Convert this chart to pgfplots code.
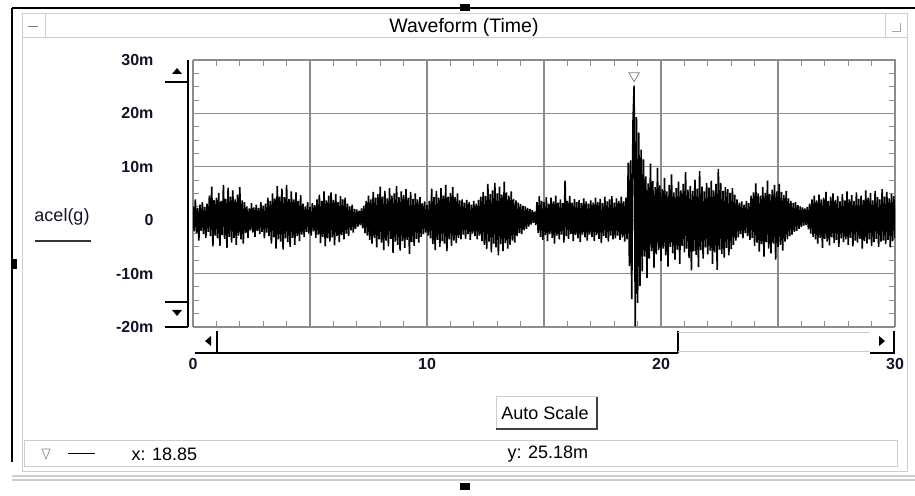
\documentclass[border=0pt]{standalone}
\usepackage{pgfplots}
\pgfplotsset{compat=1.18}
\usepackage{fontspec}
\setmainfont{Liberation Sans}
\definecolor{gridgray}{RGB}{140,140,140}
\definecolor{panelgray}{RGB}{205,205,205}
\definecolor{textblue}{RGB}{20,20,40}
\begin{document}
\begin{tikzpicture}[x=1pt,y=1pt]
\path[use as bounding box] (0,0) rectangle (915,495);
% ---------- window frame ----------
\draw[black, line width=1.6pt] (12,487) -- (915,487);
\draw[black, line width=1.6pt] (12,487) -- (12,33);
\draw[panelgray, line width=1.5pt] (12,19) -- (915,19);
\draw[panelgray, line width=1.5pt] (12,15) -- (915,15);
\draw[panelgray, line width=1pt] (22,481) rectangle (907,23);
\draw[panelgray, line width=1pt] (22,457) -- (907,457);
\draw[panelgray, line width=1pt] (45,481) -- (45,457);
\draw[panelgray, line width=1pt] (885,481) -- (885,457);
\draw[gray, line width=1pt] (28,468) -- (38,468);
\draw[gray!70, line width=0.8pt] (892,464) -- (900,464) -- (900,472);
\fill[black] (460,484) rectangle (470,491);
\fill[black] (11,226) rectangle (17,236);
\fill[black] (460,5) rectangle (470,12);
\node[font=\fontsize{19.5}{22}\selectfont] at (464,468) {Waveform (Time)};
% ---------- y label ----------
\node[font=\fontsize{18}{20}\selectfont, text=textblue] at (62,278) {acel(g)};
\draw[black!80, line width=1.2pt] (35,254) -- (91,254);
% ---------- y scrollbar ----------
\draw[black, line width=1.5pt] (188,435) -- (188,168);
\draw[black, line width=1.5pt] (165,413) -- (188,413);
\draw[black, line width=1.5pt] (165,193) -- (188,193);
\draw[black, line width=1.5pt] (165,168) -- (188,168);
\fill[black] (172,421) -- (182,421) -- (177,427) -- cycle;
\fill[black] (172,185) -- (182,185) -- (177,179) -- cycle;
% ---------- x scrollbar ----------
\draw[black, line width=1.5pt] (195,142) -- (678,142);
\draw[black, line width=1.5pt] (217,164) -- (217,142);
\draw[black, line width=1.5pt] (678,164) -- (678,142);
\draw[panelgray, line width=1pt] (678,162) -- (870,162);
\draw[panelgray, line width=1pt] (678,143) -- (870,143);
\draw[black, line width=1.5pt] (870,142) -- (894,142) -- (894,164);
\fill[black] (211,149) -- (211,159) -- (205,154) -- cycle;
\fill[black] (879,149) -- (879,159) -- (885,154) -- cycle;
% ---------- Auto Scale button ----------
\draw[panelgray, line width=1pt] (496,98) -- (496,66) ;
\draw[panelgray, line width=1pt] (496,98) -- (597,98);
\draw[black!75, line width=1.5pt] (496,66) -- (597,66) -- (597,98);
\node[font=\fontsize{18}{20}\selectfont] at (545,82) {Auto Scale};
% ---------- status bar ----------
\draw[panelgray, line width=1pt] (24,54) rectangle (897,28);
\draw[gray, line width=0.6pt] (42,46) -- (50,46) -- (46,36) -- cycle;
\draw[black, line width=1pt] (68,41) -- (95,41);
\node[font=\fontsize{18}{20}\selectfont, anchor=west] at (128,41) {x: 18.85};
\node[font=\fontsize{18}{20}\selectfont, anchor=west] at (504,41) {y: 25.18m};
% ---------- the axis ----------
\begin{axis}[
  at={(193pt,168pt)}, anchor=south west,
  scale only axis, width=702pt, height=267pt,
  xmin=0, xmax=30, ymin=-20, ymax=30,
  axis line style={gridgray, line width=1pt},
  xtick={0,5,...,30}, xticklabels={0,,10,,20,,30},
  ytick={-20,-10,0,10,20,30}, yticklabels={-20m,-10m,0,10m,20m,30m},
  minor x tick num=4, minor y tick num=3,
  tick align=inside,
  major tick length=0pt, minor tick length=6pt,
  tick style={gridgray, line width=1pt},
  xmajorgrids, ymajorgrids,
  major grid style={gridgray, line width=1.1pt},
  /pgf/number format/assume math mode=true,
  ticklabel style={font=\fontsize{16}{18}\selectfont\bfseries, text=textblue},
  xticklabel style={yshift=-28pt},
  yticklabel style={xshift=-36pt},
  clip=true,
]
\addplot[black, line width=1.6pt, line join=bevel, mark=none] coordinates {
(0,2.6)(0.05,-2.1)(0.1,3.9)(0.15,-2.4)(0.2,2.3)(0.25,-3.8)(0.3,2.9)(0.35,-2.0)(0.4,3.4)(0.45,-2.6)(0.5,2.5)(0.55,-3.3)(0.6,3.1)(0.65,-2.2)(0.7,4.6)(0.75,-3.0)(0.8,6.3)(0.85,-4.9)(0.9,3.8)(0.95,-2.9)
(1,4.2)(1.05,-3.4)(1.1,5.1)(1.15,-4.8)(1.2,3.6)(1.25,-2.8)(1.3,6.6)(1.35,-3.5)(1.4,4.0)(1.45,-5.2)(1.5,6.1)(1.55,-3.1)(1.6,4.4)(1.65,-4.2)(1.7,5.6)(1.75,-3.3)(1.8,3.9)(1.85,-4.6)(1.9,4.8)(1.95,-2.9)
(2,6.2)(2.05,-3.6)(2.1,3.7)(2.15,-4.4)(2.2,3.4)(2.25,-2.4)(2.3,2.6)(2.35,-3.3)(2.4,2.2)(2.45,-1.9)(2.5,3.2)(2.55,-2.3)(2.6,2.4)(2.65,-3.1)(2.7,2.9)(2.75,-2.0)(2.8,2.3)(2.85,-2.6)(2.9,3.4)(2.95,-2.2)
(3,2.7)(3.05,-3.4)(3.1,3.1)(3.15,-2.3)(3.2,4.2)(3.25,-3.0)(3.3,3.6)(3.35,-4.4)(3.4,5.0)(3.45,-3.2)(3.5,4.1)(3.55,-5.3)(3.6,6.4)(3.65,-3.6)(3.7,4.4)(3.75,-4.0)(3.8,5.9)(3.85,-5.5)(3.9,4.3)(3.95,-3.4)
(4,6.6)(4.05,-4.1)(4.1,4.0)(4.15,-5.0)(4.2,5.4)(4.25,-3.3)(4.3,3.9)(4.35,-4.6)(4.4,5.2)(4.45,-3.0)(4.5,3.6)(4.55,-3.9)(4.6,4.7)(4.65,-2.7)(4.7,3.1)(4.75,-3.1)(4.8,2.6)(4.85,-2.2)(4.9,3.4)(4.95,-2.5)
(5,2.5)(5.05,-2.9)(5.1,3.2)(5.15,-2.1)(5.2,2.8)(5.25,-3.3)(5.3,3.9)(5.35,-2.7)(5.4,4.8)(5.45,-4.3)(5.5,3.6)(5.55,-3.1)(5.6,5.4)(5.65,-4.9)(5.7,3.7)(5.75,-3.4)(5.8,4.6)(5.85,-4.0)(5.9,5.2)(5.95,-3.2)
(6,3.8)(6.05,-4.7)(6.1,4.9)(6.15,-3.0)(6.2,3.4)(6.25,-4.1)(6.3,4.5)(6.35,-2.8)(6.4,3.9)(6.45,-3.6)(6.5,4.2)(6.55,-2.5)(6.6,3.1)(6.65,-3.0)(6.7,2.6)(6.75,-1.9)(6.8,2.9)(6.85,-2.3)(6.9,2.1)(6.95,-1.6)
(7,2.0)(7.05,-1.2)(7.1,1.8)(7.15,-0.9)(7.2,2.2)(7.25,-1.5)(7.3,2.7)(7.35,-2.4)(7.4,3.6)(7.45,-2.9)(7.5,4.6)(7.55,-3.7)(7.6,3.9)(7.65,-4.4)(7.7,5.3)(7.75,-3.3)(7.8,4.2)(7.85,-5.1)(7.9,4.9)(7.95,-3.6)
(8,6.3)(8.05,-4.2)(8.1,4.4)(8.15,-5.6)(8.2,5.5)(8.25,-3.8)(8.3,4.1)(8.35,-4.9)(8.4,6.0)(8.45,-3.5)(8.5,4.6)(8.55,-6.1)(8.6,5.0)(8.65,-4.0)(8.7,6.4)(8.75,-4.6)(8.8,4.3)(8.85,-5.7)(8.9,5.4)(8.95,-3.9)
(9,4.7)(9.05,-5.2)(9.1,5.8)(9.15,-3.7)(9.2,4.2)(9.25,-6.3)(9.3,5.3)(9.35,-4.1)(9.4,4.0)(9.45,-4.8)(9.5,5.0)(9.55,-3.5)(9.6,3.9)(9.65,-4.2)(9.7,4.3)(9.75,-3.1)(9.8,3.2)(9.85,-2.6)(9.9,3.5)(9.95,-2.3)
(10,2.8)(10.05,-2.9)(10.1,3.6)(10.15,-3.4)(10.2,5.9)(10.25,-4.5)(10.3,4.3)(10.35,-5.6)(10.4,5.5)(10.45,-3.7)(10.5,4.2)(10.55,-5.0)(10.6,6.0)(10.65,-3.9)(10.7,4.6)(10.75,-4.4)(10.8,6.6)(10.85,-5.8)(10.9,4.4)(10.95,-3.6)
(11,5.1)(11.05,-4.8)(11.1,6.2)(11.15,-3.8)(11.2,4.3)(11.25,-4.3)(11.3,5.0)(11.35,-3.3)(11.4,3.7)(11.45,-3.6)(11.5,3.9)(11.55,-2.7)(11.6,3.3)(11.65,-3.5)(11.7,3.8)(11.75,-2.6)(11.8,3.4)(11.85,-3.7)(11.9,2.9)(11.95,-2.5)
(12,3.6)(12.05,-3.0)(12.1,3.1)(12.15,-3.6)(12.2,3.8)(12.25,-2.9)(12.3,4.4)(12.35,-3.9)(12.4,5.3)(12.45,-4.6)(12.5,4.5)(12.55,-5.4)(12.6,6.8)(12.65,-4.0)(12.7,4.9)(12.75,-6.0)(12.8,5.6)(12.85,-4.4)(12.9,7.0)(12.95,-5.1)
(13,5.0)(13.05,-6.6)(13.1,6.3)(13.15,-4.5)(13.2,4.8)(13.25,-5.8)(13.3,7.2)(13.35,-4.3)(13.4,5.2)(13.45,-5.3)(13.5,4.6)(13.55,-4.6)(13.6,5.4)(13.65,-3.8)(13.7,4.0)(13.75,-4.2)(13.8,3.7)(13.85,-3.0)(13.9,3.3)(13.95,-2.4)
(14,3.0)(14.05,-2.6)(14.1,2.7)(14.15,-1.9)(14.2,2.6)(14.25,-1.6)(14.3,2.3)(14.35,-1.2)(14.4,2.1)(14.45,-0.8)(14.5,1.9)(14.55,-0.5)(14.6,1.6)(14.65,-0.9)(14.7,3.4)(14.75,-2.4)(14.8,4.5)(14.85,-3.1)(14.9,3.6)(14.95,-3.7)
(15,3.4)(15.05,-2.8)(15.1,4.3)(15.15,-3.9)(15.2,3.1)(15.25,-2.6)(15.3,4.2)(15.35,-3.3)(15.4,3.5)(15.45,-4.4)(15.5,4.6)(15.55,-2.9)(15.6,3.3)(15.65,-3.6)(15.7,3.9)(15.75,-2.7)(15.8,3.2)(15.85,-4.2)(15.9,7.4)(15.95,-3.0)
(16,3.6)(16.05,-3.5)(16.1,4.5)(16.15,-2.6)(16.2,3.3)(16.25,-3.9)(16.3,4.0)(16.35,-2.8)(16.4,3.4)(16.45,-3.4)(16.5,3.8)(16.55,-4.1)(16.6,3.2)(16.65,-2.7)(16.7,4.1)(16.75,-3.2)(16.8,3.5)(16.85,-3.8)(16.9,3.1)(16.95,-2.7)
(17,3.7)(17.05,-3.1)(17.1,3.3)(17.15,-3.9)(17.2,4.2)(17.25,-2.8)(17.3,3.4)(17.35,-3.5)(17.4,4.0)(17.45,-4.3)(17.5,3.2)(17.55,-3.0)(17.6,4.4)(17.65,-3.3)(17.7,3.5)(17.75,-4.0)(17.8,3.9)(17.85,-2.9)(17.9,4.5)(17.95,-3.6)
(18,3.3)(18.05,-3.4)(18.1,4.1)(18.15,-2.9)(18.2,3.6)(18.25,-3.7)(18.3,4.4)(18.35,-3.2)(18.4,3.5)(18.45,-4.0)(18.5,4.2)(18.55,-3.6)(18.6,10.8)(18.65,-8.6)(18.7,11.2)(18.75,-14.8)(18.8,18.0)(18.85,25.18)(18.9,-19.9)(18.95,19.3)
(19,-15.5)(19.05,16.4)(19.1,-12.3)(19.15,13.2)(19.2,-9.6)(19.25,11.4)(19.3,-6.8)(19.35,8.2)(19.4,-10.8)(19.45,6.9)(19.5,-7.2)(19.55,10.6)(19.6,-5.8)(19.65,7.3)(19.7,-8.9)(19.75,6.2)(19.8,-6.4)(19.85,9.8)(19.9,-5.6)(19.95,6.5)
(20,-7.6)(20.05,5.8)(20.1,-5.3)(20.15,7.9)(20.2,-6.6)(20.25,5.4)(20.3,-8.7)(20.35,6.6)(20.4,-5.0)(20.45,8.6)(20.5,-6.2)(20.55,5.2)(20.6,-7.4)(20.65,6.0)(20.7,-5.5)(20.75,7.2)(20.8,-8.2)(20.85,5.6)(20.9,-4.8)(20.95,6.8)
(21,-6.0)(21.05,9.0)(21.1,-5.3)(21.15,5.7)(21.2,-7.1)(21.25,6.4)(21.3,-9.4)(21.35,5.5)(21.4,-5.8)(21.45,7.6)(21.5,-6.5)(21.55,5.9)(21.6,-8.8)(21.65,9.2)(21.7,-5.6)(21.75,6.3)(21.8,-7.2)(21.85,5.4)(21.9,-5.1)(21.95,7.0)
(22,-6.4)(22.05,6.1)(22.1,-5.7)(22.15,7.4)(22.2,-8.2)(22.25,5.6)(22.3,-6.0)(22.35,6.8)(22.4,-9.3)(22.45,9.6)(22.5,-5.5)(22.55,7.0)(22.6,-6.3)(22.65,5.5)(22.7,-7.0)(22.75,6.2)(22.8,-5.2)(22.85,5.8)(22.9,-6.6)(22.95,5.1)
(23,-5.4)(23.05,6.0)(23.1,-4.6)(23.15,4.8)(23.2,-3.8)(23.25,3.9)(23.3,-3.2)(23.35,3.3)(23.4,-2.6)(23.45,3.5)(23.5,-3.4)(23.55,2.9)(23.6,-2.4)(23.65,3.6)(23.7,-3.0)(23.75,3.2)(23.8,-3.7)(23.85,4.6)(23.9,-3.3)(23.95,5.2)
(24,-4.8)(24.05,6.9)(24.1,-4.2)(24.15,5.0)(24.2,-5.9)(24.25,4.6)(24.3,-4.5)(24.35,6.2)(24.4,-6.8)(24.45,5.1)(24.5,-4.1)(24.55,7.4)(24.6,-5.3)(24.65,4.9)(24.7,-6.2)(24.75,5.7)(24.8,-4.4)(24.85,6.6)(24.9,-7.4)(24.95,5.4)
(25,-5.0)(25.05,6.8)(25.1,-4.6)(25.15,5.3)(25.2,-5.7)(25.25,4.7)(25.3,-4.0)(25.35,5.5)(25.4,-3.6)(25.45,4.1)(25.5,-3.0)(25.55,3.6)(25.6,-2.7)(25.65,3.2)(25.7,-2.2)(25.75,3.4)(25.8,-2.0)(25.85,2.8)(25.9,-1.6)(25.95,2.6)
(26,-1.3)(26.05,2.4)(26.1,-1.0)(26.15,2.2)(26.2,-0.9)(26.25,2.5)(26.3,-1.7)(26.35,3.1)(26.4,-2.5)(26.45,3.9)(26.5,-3.1)(26.55,4.6)(26.6,-3.6)(26.65,3.7)(26.7,-4.4)(26.75,4.8)(26.8,-3.3)(26.85,3.9)(26.9,-5.2)(26.95,4.2)
(27,-3.5)(27.05,5.3)(27.1,-4.0)(27.15,3.6)(27.2,-4.7)(27.25,4.4)(27.3,-3.2)(27.35,5.0)(27.4,-4.3)(27.45,3.8)(27.5,-3.7)(27.55,4.5)(27.6,-5.0)(27.65,3.5)(27.7,-3.4)(27.75,4.9)(27.8,-4.1)(27.85,3.7)(27.9,-3.6)(27.95,5.4)
(28,-4.6)(28.05,3.9)(28.1,-3.3)(28.15,4.7)(28.2,-4.9)(28.25,3.6)(28.3,-3.8)(28.35,5.2)(28.4,-4.2)(28.45,4.0)(28.5,-3.5)(28.55,4.6)(28.6,-5.3)(28.65,3.8)(28.7,-3.9)(28.75,5.6)(28.8,-4.4)(28.85,4.2)(28.9,-3.6)(28.95,5.1)
(29,-4.8)(29.05,3.7)(29.1,-4.1)(29.15,5.5)(29.2,-3.5)(29.25,4.3)(29.3,-5.0)(29.35,3.9)(29.4,-4.0)(29.45,5.8)(29.5,-3.8)(29.55,4.4)(29.6,-4.5)(29.65,5.3)(29.7,-3.7)(29.75,4.1)(29.8,-5.1)(29.85,4.9)(29.9,-3.9)(29.95,4.5)(30,-3.4)
};
\addplot[only marks, mark=triangle, mark size=6pt, mark options={draw=gray, fill=white, line width=0.8pt, yshift=10pt, rotate=180}] coordinates {(18.85,25.18)};
\end{axis}
\end{tikzpicture}
\end{document}
